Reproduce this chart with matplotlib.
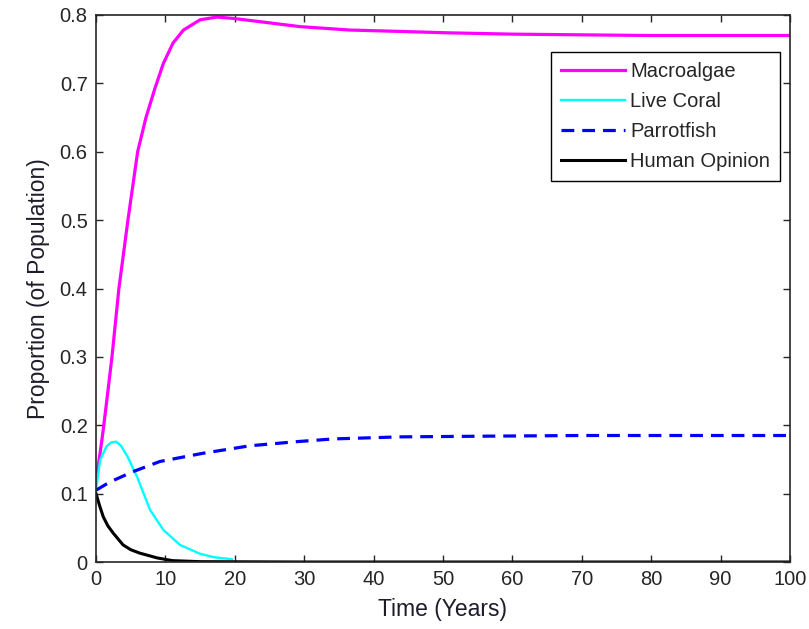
import matplotlib.pyplot as plt

plt.rcParams["font.family"] = ["Liberation Sans", "DejaVu Sans"]

# Macroalgae (magenta)
t_macro = [0, 0.6, 1.0, 1.6, 2.3, 3.3, 4.6, 6.0, 7.2, 8.5, 9.7, 11.1, 12.6, 15.0, 17.4,
           19.8, 24.6, 29.4, 36.6, 43.8, 50.5, 60, 70, 80, 90, 100]
v_macro = [0.12, 0.16, 0.19, 0.24, 0.30, 0.40, 0.50, 0.60, 0.65, 0.693, 0.729, 0.759, 0.778,
           0.793, 0.797, 0.795, 0.789, 0.783, 0.778, 0.776, 0.774, 0.772, 0.771, 0.770,
           0.770, 0.770]

# Live Coral (cyan)
t_coral = [0, 0.6, 1.5, 2.2, 2.9, 3.6, 4.5, 5.9, 7.8, 9.7, 12.1, 15.0, 17.0, 19.6]
v_coral = [0.105, 0.149, 0.169, 0.175, 0.176, 0.170, 0.155, 0.125, 0.076, 0.047, 0.025,
           0.012, 0.007, 0.004]

# Parrotfish (blue dashed)
t_parrot = [0, 2.0, 5.3, 9.2, 15.4, 22.2, 28.9, 34.2, 43.8, 55.8, 70, 85, 100]
v_parrot = [0.105, 0.117, 0.132, 0.147, 0.159, 0.170, 0.176, 0.180, 0.183, 0.184, 0.185,
            0.185, 0.185]

# Human Opinion (black)
t_human = [0, 0.5, 1.05, 1.7, 2.5, 3.9, 5.0, 6.3, 8.8, 11, 15, 30, 60, 100]
v_human = [0.10, 0.083, 0.066, 0.053, 0.042, 0.025, 0.018, 0.013, 0.006, 0.002, 0.0005,
           0, 0, 0]

fig = plt.figure(figsize=(8.09, 6.29), dpi=100)
ax = fig.add_axes([96 / 809, 1 - 562 / 629, 694 / 809, 547 / 629])

ax.plot(t_macro, v_macro, color="#ff00ff", linewidth=2.3, label="Macroalgae")
ax.plot(t_coral, v_coral, color="#00ffff", linewidth=1.7, label="Live Coral")
ax.plot(t_parrot, v_parrot, color="#0000ff", linewidth=2.3, linestyle=(0, (4, 2.5)),
        label="Parrotfish")
ax.plot(t_human, v_human, color="black", linewidth=2.2, label="Human Opinion")

ax.set_xlim(0, 100)
ax.set_ylim(0, 0.8)
ax.set_xticks(range(0, 101, 10))
ax.set_yticks([0, 0.1, 0.2, 0.3, 0.4, 0.5, 0.6, 0.7, 0.8])
ax.set_yticklabels(["0", "0.1", "0.2", "0.3", "0.4", "0.5", "0.6", "0.7", "0.8"])
ax.tick_params(direction="in", top=True, right=True, length=5, width=1,
               labelsize=14.5, colors="#262626", pad=6)
for s in ax.spines.values():
    s.set_color("#262626")
    s.set_linewidth(1.2)

ax.set_xlabel("Time (Years)", fontsize=16.5, color="#1c1c2a", labelpad=6)
ax.set_ylabel("Proportion (of Population)", fontsize=16.5, color="#1c1c2a", labelpad=7)

leg = ax.legend(loc="upper right", bbox_to_anchor=(0.986, 0.933), fontsize=14.5,
                fancybox=False, edgecolor="black", framealpha=1, handlelength=3.2,
                borderaxespad=0, labelspacing=0.55, handletextpad=0.25,
                borderpad=0.5)
leg.get_frame().set_linewidth(1.0)
for txt in leg.get_texts():
    txt.set_color("#262626")

plt.savefig("out.png", dpi=100)
